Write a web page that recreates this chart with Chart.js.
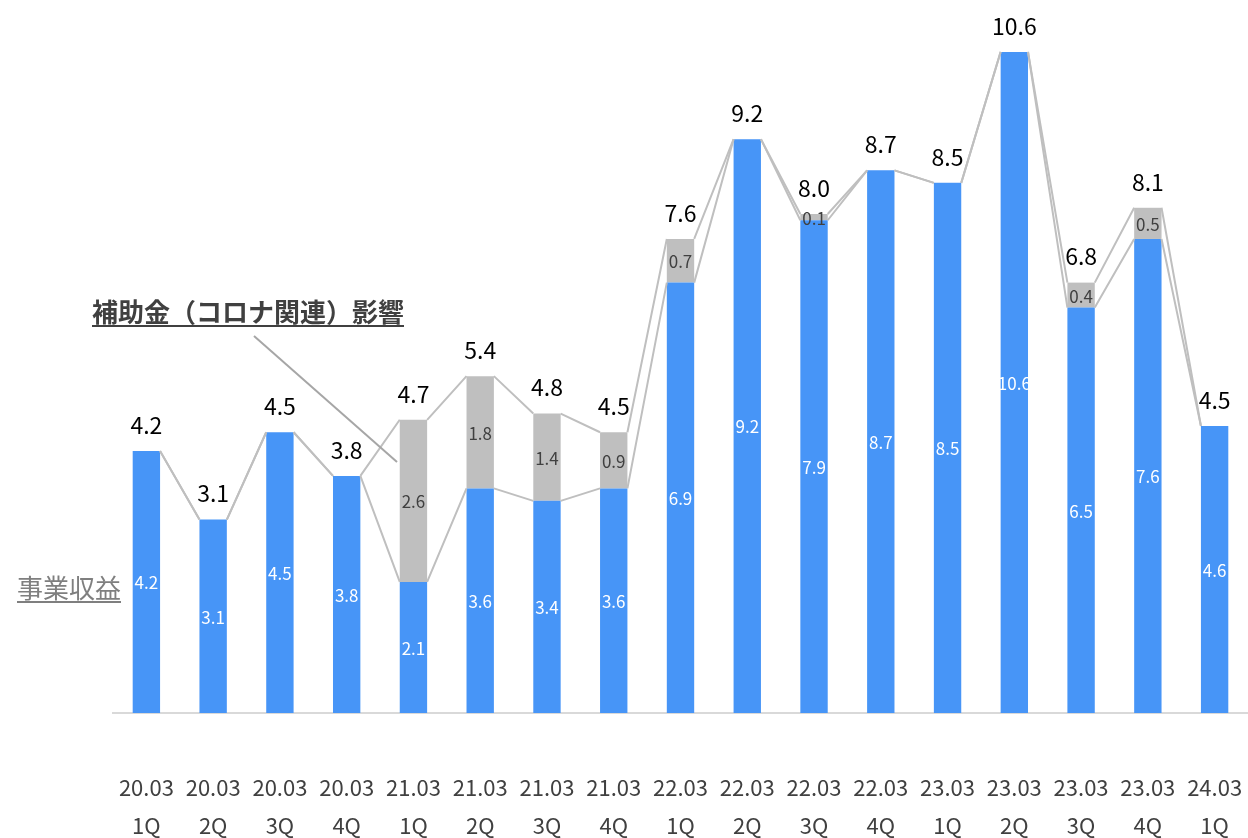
<!DOCTYPE html>
<html lang="ja">
<head>
<meta charset="utf-8">
<script src="https://cdn.jsdelivr.net/npm/chart.js@4.4.1/dist/chart.umd.min.js"></script>
<style>
  html, body { margin: 0; padding: 0; background: #fff; overflow: hidden; }
  canvas { display: block; }
</style>
</head>
<body>
<canvas id="chart" width="1248" height="870"></canvas>
<script>
// 期・四半期
const periods  = ['20.03','20.03','20.03','20.03','21.03','21.03','21.03','21.03','22.03','22.03','22.03','22.03','23.03','23.03','23.03','23.03','24.03'];
const quarters = ['1Q','2Q','3Q','4Q','1Q','2Q','3Q','4Q','1Q','2Q','3Q','4Q','1Q','2Q','3Q','4Q','1Q'];

// 事業収益 / 補助金（コロナ関連）影響
const revenue = [4.2, 3.1, 4.5, 3.8, 2.1, 3.6, 3.4, 3.6, 6.9, 9.2, 7.9, 8.7, 8.5, 10.6, 6.5, 7.6, 4.6];
const subsidy = [0, 0, 0, 0, 2.6, 1.8, 1.4, 0.9, 0.7, 0, 0.1, 0, 0, 0, 0.4, 0.5, 0];

// 合計ラベル
const totals = ['4.2','3.1','4.5','3.8','4.7','5.4','4.8','4.5','7.6','9.2','8.0','8.7','8.5','10.6','6.8','8.1','4.5'];

const FONT = '"Noto Sans CJK JP", "Noto Sans", sans-serif';
const BLUE = '#4795F7';
const GRAY = '#BFBFBF';

// Excel風の系列線（棒の右上 → 次の棒の左上）
const seriesLines = {
  id: 'seriesLines',
  afterDatasetsDraw(chart) {
    const ctx = chart.ctx;
    ctx.save();
    ctx.strokeStyle = GRAY;
    ctx.lineWidth = 2;
    chart.data.datasets.forEach((ds, di) => {
      const bars = chart.getDatasetMeta(di).data;
      ctx.beginPath();
      for (let i = 0; i < bars.length - 1; i++) {
        const a = bars[i], b = bars[i + 1];
        ctx.moveTo(a.x + a.width / 2, a.y);
        ctx.lineTo(b.x - b.width / 2, b.y);
      }
      ctx.stroke();
    });
    ctx.restore();
  }
};

// 棒内の値と上部の合計
const valueLabels = {
  id: 'valueLabels',
  afterDatasetsDraw(chart) {
    const ctx = chart.ctx;
    ctx.save();
    ctx.textAlign = 'center';
    ctx.textBaseline = 'middle';
    ctx.font = '17px ' + FONT;
    chart.data.datasets.forEach((ds, di) => {
      const bars = chart.getDatasetMeta(di).data;
      ctx.fillStyle = di === 0 ? '#FFFFFF' : '#404040';
      bars.forEach((bar, i) => {
        const v = ds.data[i];
        if (!v) return;
        ctx.fillText(v.toFixed(1), bar.x, (bar.y + bar.base) / 2 + 1);
      });
    });
    const top = chart.getDatasetMeta(1).data;
    ctx.fillStyle = '#000000';
    ctx.font = '23px ' + FONT;
    top.forEach((bar, i) => {
      ctx.fillText(totals[i], bar.x, bar.y - 26);
    });
    ctx.restore();
  }
};

// 凡例代わりの注記
const notes = {
  id: 'notes',
  afterDraw(chart) {
    const ctx = chart.ctx;
    ctx.save();
    ctx.textAlign = 'left';
    ctx.textBaseline = 'alphabetic';

    ctx.font = 'bold 26px ' + FONT;
    ctx.fillStyle = '#404040';
    const t1 = '補助金（コロナ関連）影響';
    ctx.fillText(t1, 92, 322);
    const w1 = ctx.measureText(t1).width;
    ctx.fillRect(92, 325, w1, 2);

    ctx.strokeStyle = '#A6A6A6';
    ctx.lineWidth = 2;
    ctx.beginPath();
    ctx.moveTo(254, 336);
    ctx.lineTo(397, 462);
    ctx.stroke();

    ctx.font = '26px ' + FONT;
    ctx.fillStyle = '#7F7F7F';
    const t2 = '事業収益';
    ctx.fillText(t2, 17, 598);
    const w2 = ctx.measureText(t2).width;
    ctx.fillRect(17, 601, w2, 2);
    ctx.restore();
  }
};

new Chart(document.getElementById('chart'), {
  type: 'bar',
  data: {
    labels: periods.map((p, i) => [p, quarters[i]]),
    datasets: [
      { label: '事業収益', data: revenue, backgroundColor: BLUE },
      { label: '補助金（コロナ関連）影響', data: subsidy, backgroundColor: GRAY }
    ]
  },
  options: {
    responsive: false,
    animation: false,
    devicePixelRatio: 1,
    layout: { padding: { left: 113, right: 0, top: 2, bottom: 25 } },
    datasets: { bar: { categoryPercentage: 1, barPercentage: 0.41 } },
    plugins: { legend: { display: false }, tooltip: { enabled: false } },
    scales: {
      x: {
        stacked: true,
        grid: { display: true, drawOnChartArea: false, drawTicks: true, tickLength: 56, color: 'rgba(0,0,0,0)' },
        border: { display: true, color: '#D9D9D9', width: 2 },
        ticks: {
          color: '#404040',
          padding: 0,
          font: { family: FONT, size: 22, lineHeight: 1.73 },
          maxRotation: 0,
          autoSkip: false
        }
      },
      y: {
        stacked: true,
        display: false,
        min: 0,
        max: 11.4
      }
    }
  },
  plugins: [seriesLines, valueLabels, notes]
});
</script>
</body>
</html>
